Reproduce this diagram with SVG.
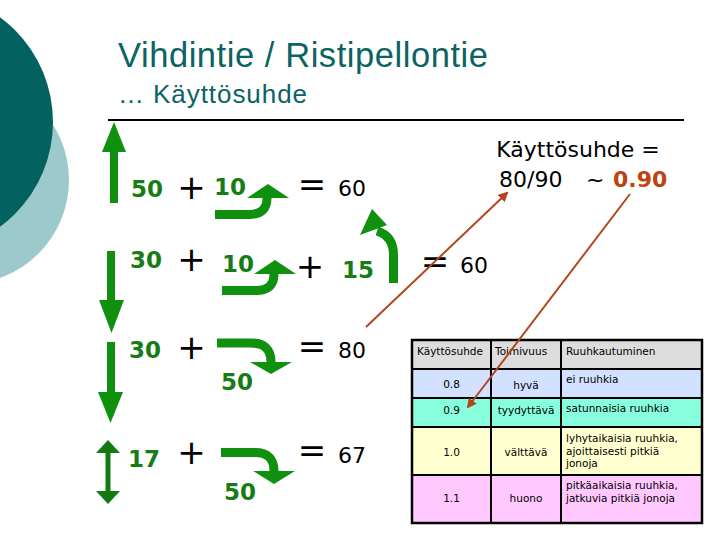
<svg xmlns="http://www.w3.org/2000/svg" width="720" height="540" viewBox="0 0 720 540">
<style>
.title{font-family:"Liberation Sans",Arial,sans-serif;fill:#0b6363}
.gnum{font-family:"DejaVu Sans",Verdana,sans-serif;font-weight:bold;font-size:23px;fill:#167d16}
.num{font-family:"DejaVu Sans",Verdana,sans-serif;font-size:22px;fill:#000}
.hi{font-weight:bold;fill:#c0420f}
.op{font-family:"DejaVu Sans",Verdana,sans-serif;font-size:34px;fill:#000;text-anchor:middle}
.turn{fill:none;stroke:#0f900f;stroke-width:9}
.head{fill:#0f900f}
.tb{font-family:"DejaVu Sans",Verdana,sans-serif;font-size:10.5px;fill:#000}
.c{text-anchor:middle}
.cell{stroke:#000;stroke-width:2}
.red{stroke:#b4461c;stroke-width:2;fill:none}
</style>
<defs>
<marker id="ra" viewBox="0 0 10 10" refX="8" refY="5" markerWidth="5" markerHeight="5" orient="auto">
<path d="M0,0 L10,5 L0,10 z" fill="#b4461c"/>
</marker>
</defs>
<rect width="720" height="540" fill="#fff"/>
<g id="background">
<circle cx="-35" cy="180" r="104" fill="#9ccacc"/>
<circle cx="-77" cy="122" r="130" fill="#03625f"/>
</g>
<g id="title">
<text class="title" x="118" y="67" font-size="34.5" textLength="370">Vihdintie / Ristipellontie</text>
<text class="title" x="118" y="103" font-size="26" textLength="189">… Käyttösuhde</text>
<line x1="108" y1="120" x2="684" y2="120" stroke="#000" stroke-width="2"/>
</g>
<g id="direction-arrows">
<path d="M110,203 V152 H102 L114,122 L126,152 H118 V203 z" fill="#0f900f"/>
<path d="M107,251 V300 H99 L111.5,333 L124,300 H115 V251 z" fill="#0f900f"/>
<path d="M107,342 V392 H98 L110.5,423 L123,392 H115 V342 z" fill="#0f900f"/>
<path d="M108,440 L120,453 H110.5 V491 H120 L108,504 L96,491 H105.5 V453 H96 z" fill="#137a13"/>
</g>
<g id="turn-arrows">
<path class="turn" d="M215,214.5 H249 Q267,214.5 267,198"/>
<polygon class="head" points="247,198 289,198 268,184"/>
<path class="turn" d="M222,290.5 H256 Q274,290.5 274,274"/>
<polygon class="head" points="254,274 296,274 275,260"/>
<path class="turn" d="M393.5,283 V255 Q393.5,236 377,231"/>
<polygon class="head" points="360,235 387,225 372,209"/>
<path class="turn" d="M217,343 H251 Q271,343 271,362"/>
<polygon class="head" points="250,362 292,362 271,374"/>
<path class="turn" d="M221,452.5 H255 Q274,452.5 274,471"/>
<polygon class="head" points="253,471 295,471 274,484"/>
</g>
<g id="row1">
<text class="gnum" x="131" y="197">50</text>
<text class="op" x="191.5" y="199">+</text>
<text class="gnum" x="214" y="195">10</text>
<text class="op" x="312" y="196">=</text>
<text class="num" x="338" y="196">60</text>
</g>
<g id="row2">
<text class="gnum" x="130" y="268">30</text>
<text class="op" x="191.5" y="271">+</text>
<text class="gnum" x="222" y="272">10</text>
<text class="op" x="310" y="278">+</text>
<text class="gnum" x="342" y="278">15</text>
<text class="op" x="435" y="273">=</text>
<text class="num" x="460" y="273">60</text>
</g>
<g id="row3">
<text class="gnum" x="129" y="358">30</text>
<text class="op" x="191.5" y="359">+</text>
<text class="gnum" x="221" y="390">50</text>
<text class="op" x="312" y="358">=</text>
<text class="num" x="338" y="358">80</text>
</g>
<g id="row4">
<text class="gnum" x="128" y="467">17</text>
<text class="op" x="191.5" y="464">+</text>
<text class="gnum" x="224" y="500">50</text>
<text class="op" x="312" y="462">=</text>
<text class="num" x="338" y="463">67</text>
</g>
<g id="ratio">
<text class="num" x="578" y="157" text-anchor="middle">Käyttösuhde =</text>
<text class="num" x="499" y="187">80/90</text>
<text class="num" x="586" y="187">~</text>
<text class="num hi" x="613" y="187">0.90</text>
</g>
<g id="table">
<rect x="412" y="340" width="290" height="29" fill="#dddddd"/>
<rect x="412" y="369" width="290" height="29" fill="#d2e1ff"/>
<rect x="412" y="398" width="290" height="29" fill="#88ffdc"/>
<rect x="412" y="427" width="290" height="48" fill="#ffffd0"/>
<rect x="412" y="475" width="290" height="48" fill="#ffc8ff"/>
<g class="cell">
<rect x="412" y="340" width="290" height="183" fill="none" stroke-width="2.5"/>
<line x1="491" y1="340" x2="491" y2="523"/>
<line x1="561" y1="340" x2="561" y2="523"/>
<line x1="412" y1="369" x2="702" y2="369"/>
<line x1="412" y1="398" x2="702" y2="398"/>
<line x1="412" y1="427" x2="702" y2="427"/>
<line x1="412" y1="475" x2="702" y2="475"/>
</g>
<text class="tb" x="417" y="355">Käyttösuhde</text>
<text class="tb" x="495" y="355">Toimivuus</text>
<text class="tb" x="566" y="355">Ruuhkautuminen</text>
<text class="tb c" x="451.5" y="388">0.8</text>
<text class="tb c" x="526" y="389">hyvä</text>
<text class="tb" x="566" y="383">ei ruuhkia</text>
<text class="tb c" x="451.5" y="414">0.9</text>
<text class="tb c" x="526" y="414">tyydyttävä</text>
<text class="tb" x="566" y="412">satunnaisia ruuhkia</text>
<text class="tb c" x="451.5" y="456">1.0</text>
<text class="tb c" x="526" y="456">välttävä</text>
<text class="tb" x="566" y="442">lyhytaikaisia ruuhkia,</text>
<text class="tb" x="566" y="454.5">ajoittaisesti pitkiä</text>
<text class="tb" x="566" y="467">jonoja</text>
<text class="tb c" x="451.5" y="502">1.1</text>
<text class="tb c" x="526" y="502">huono</text>
<text class="tb" x="566" y="489">pitkäaikaisia ruuhkia,</text>
<text class="tb" x="566" y="502">jatkuvia pitkiä jonoja</text>
</g>
<g id="connectors">
<line class="red" x1="366" y1="327" x2="507" y2="193" marker-end="url(#ra)"/>
<line class="red" x1="630" y1="194" x2="468" y2="407" marker-end="url(#ra)"/>
</g>
</svg>
